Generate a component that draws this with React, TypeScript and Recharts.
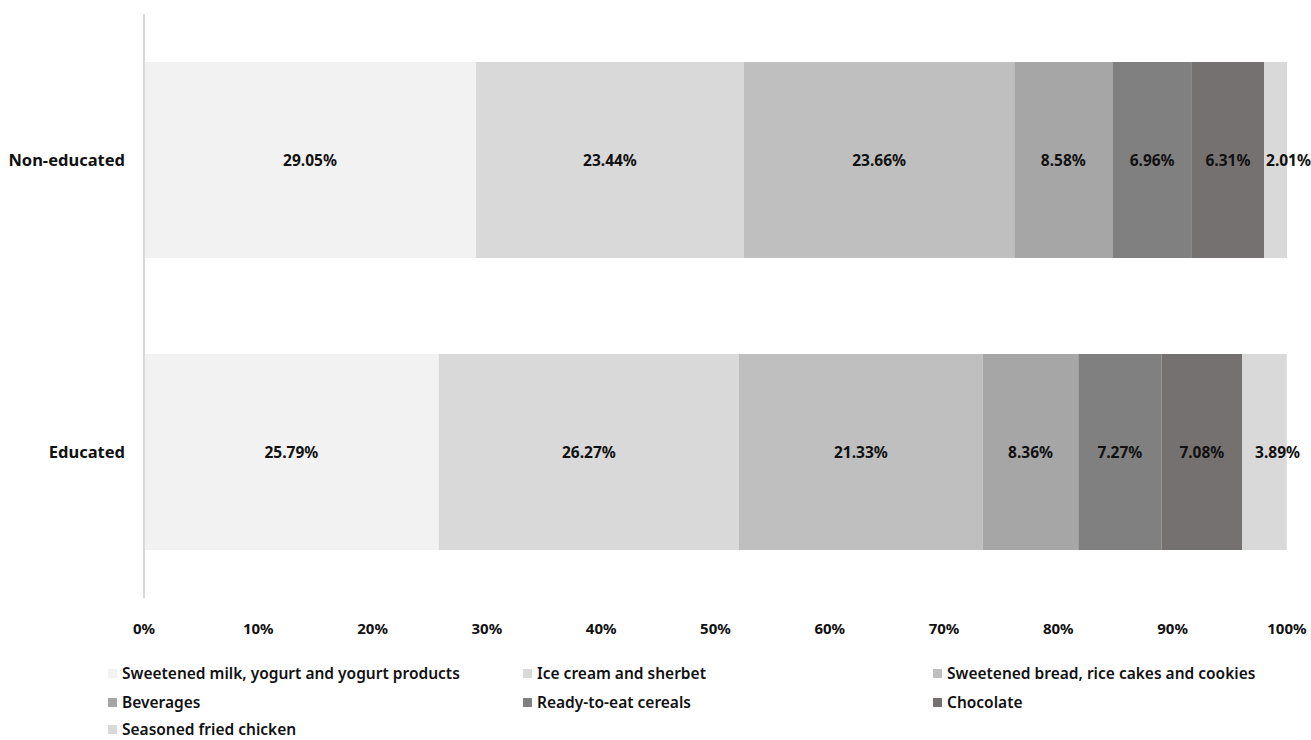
import React from 'react';
import { BarChart, Bar, XAxis, YAxis, LabelList } from 'recharts';

const categories = ['Non-educated', 'Educated'];
const seriesNames = [
  'Sweetened milk, yogurt and yogurt products',
  'Ice cream and sherbet',
  'Sweetened bread, rice cakes and cookies',
  'Beverages',
  'Ready-to-eat cereals',
  'Chocolate',
  'Seasoned fried chicken',
];
const milk = [29.05, 25.79];
const iceCream = [23.44, 26.27];
const bread = [23.66, 21.33];
const beverages = [8.58, 8.36];
const cereals = [6.96, 7.27];
const chocolate = [6.31, 7.08];
const chicken = [2.01, 3.89];
const xTicks = [0, 10, 20, 30, 40, 50, 60, 70, 80, 90, 100];

const seriesValues = [milk, iceCream, bread, beverages, cereals, chocolate, chicken];
const colors = ['#f2f2f2', '#d9d9d9', '#bfbfbf', '#a6a6a6', '#808080', '#767171', '#d9d9d9'];
const keys = ['s0', 's1', 's2', 's3', 's4', 's5', 's6'];

const data = categories.map((c, i) => {
  const row: Record<string, any> = { name: c };
  seriesValues.forEach((arr, k) => {
    row[keys[k]] = arr[i];
  });
  return row;
});

const FONT = '"Noto Sans", "Open Sans", sans-serif';

const makeLabel = (dx: number) => (props: any) => {
  const { x, y, width, height, value } = props;
  return (
    <text
      x={Number(x) + Number(width) / 2 + dx}
      y={Number(y) + Number(height) / 2}
      textAnchor="middle"
      dominantBaseline="central"
      fontFamily={FONT}
      fontWeight="bold"
      fontSize={15.5}
      fill="#111"
    >
      {`${Number(value).toFixed(2)}%`}
    </text>
  );
};

const legendCols = [108, 523, 933];
const legendRows = [673, 702, 729];

export default function App() {
  return (
    <div style={{ position: 'absolute', left: 0, top: 0, width: 1311, height: 740, background: '#fff', overflow: 'hidden' }}>
      <BarChart
        width={1311}
        height={740}
        data={data}
        layout="vertical"
        margin={{ top: 14, right: 24, bottom: 102, left: 0 }}
        barCategoryGap={48}
      >
        <XAxis
          type="number"
          domain={[0, 100]}
          ticks={xTicks}
          tickFormatter={(v: number) => `${v}%`}
          axisLine={false}
          tickLine={false}
          tickSize={0}
          tickMargin={25}
          height={40}
          interval={0}
          tick={{ fontFamily: FONT, fontWeight: 'bold', fontSize: 15, fill: '#111' }}
        />
        <YAxis
          type="category"
          dataKey="name"
          width={144}
          axisLine={{ stroke: '#d9d9d9', strokeWidth: 2 }}
          tickLine={false}
          tickSize={0}
          tickMargin={19}
          tick={{ fontFamily: FONT, fontWeight: 'bold', fontSize: 16.5, fill: '#111' }}
        />
        {keys.map((k, i) => (
          <Bar key={k} dataKey={k} stackId="a" fill={colors[i]} isAnimationActive={false} name={seriesNames[i]}>
            <LabelList dataKey={k} content={makeLabel(i === keys.length - 1 ? 13 : 0)} />
          </Bar>
        ))}
      </BarChart>
      {seriesNames.map((n, i) => (
        <div
          key={n}
          style={{
            position: 'absolute',
            left: legendCols[i % 3],
            top: legendRows[Math.floor(i / 3)] - 8,
            height: 16,
            lineHeight: '16px',
            display: 'flex',
            alignItems: 'center',
            fontFamily: FONT,
            fontWeight: 600,
            fontSize: 15.5,
            color: '#111',
            whiteSpace: 'nowrap',
          }}
        >
          <span style={{ display: 'inline-block', width: 9, height: 9, background: colors[i], marginRight: 5 }} />
          {n}
        </div>
      ))}
    </div>
  );
}
